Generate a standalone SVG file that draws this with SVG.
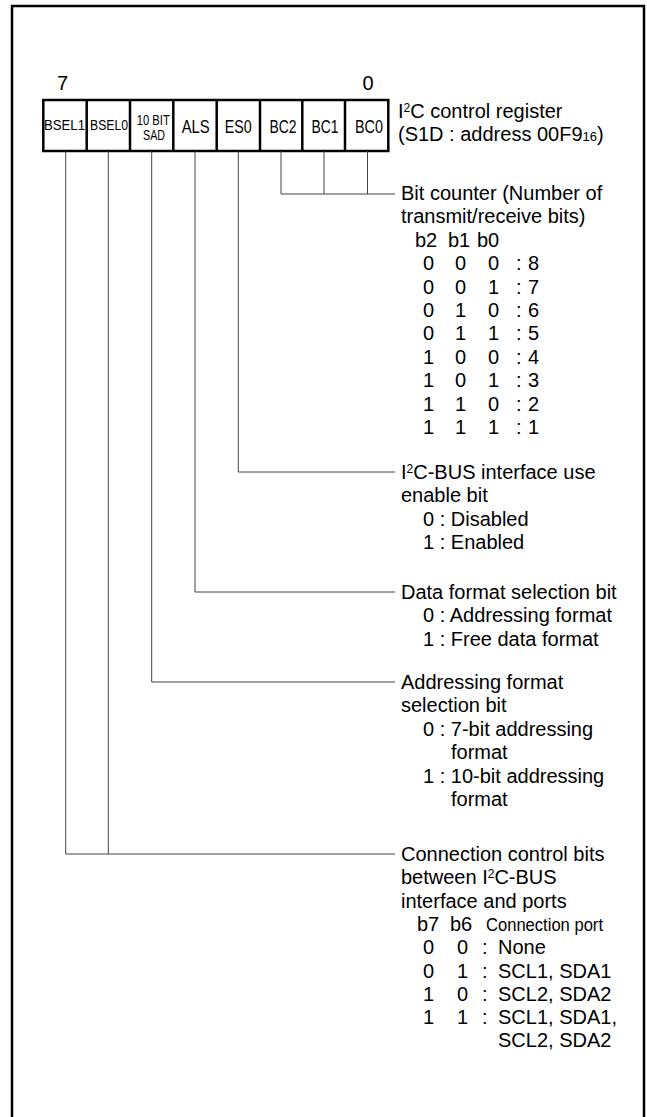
<svg xmlns="http://www.w3.org/2000/svg" width="647" height="1117" viewBox="0 0 647 1117">
<style>
text{font-family:"Liberation Sans",Arial,sans-serif;fill:#000}
.t{font-size:20px}
.c{font-size:18px;text-anchor:middle}
.s{font-size:14px;text-anchor:middle}
.sup{font-size:12px}
.sub{font-size:13px}
.frame{fill:none;stroke:#000;stroke-width:2.5}
.reg{fill:#fff;stroke:#000;stroke-width:2.5}
.cell{stroke:#000;stroke-width:2.5}
.ln{fill:none;stroke:#444;stroke-width:1}
</style>
<rect width="647" height="1117" fill="#fff"/>
<path class="frame" d="M12,1125 V6 H644 V1125"/>

<g id="register">
<text class="t" x="62.5" y="90" text-anchor="middle">7</text>
<text class="t" x="368" y="90" text-anchor="middle">0</text>
<rect class="reg" x="43.3" y="100" width="345" height="51"/>
<path class="cell" d="M86.7,100V151M130,100V151M173.3,100V151M216.7,100V151M260,100V151M302.3,100V151M345,100V151"/>
<text class="s" x="64.5" y="130" textLength="41" lengthAdjust="spacingAndGlyphs">BSEL1</text>
<text class="s" x="109" y="130" textLength="38" lengthAdjust="spacingAndGlyphs">BSEL0</text>
<text class="s" x="153.3" y="125" textLength="33" lengthAdjust="spacingAndGlyphs">10 BIT</text>
<text class="s" x="154" y="140" textLength="22" lengthAdjust="spacingAndGlyphs">SAD</text>
<text class="c" x="195.7" y="133" textLength="28" lengthAdjust="spacingAndGlyphs">ALS</text>
<text class="c" x="238.3" y="133" textLength="27" lengthAdjust="spacingAndGlyphs">ES0</text>
<text class="c" x="283" y="133" textLength="27" lengthAdjust="spacingAndGlyphs">BC2</text>
<text class="c" x="325" y="133" textLength="27" lengthAdjust="spacingAndGlyphs">BC1</text>
<text class="c" x="369" y="133" textLength="28" lengthAdjust="spacingAndGlyphs">BC0</text>
<text class="t" x="398" y="118">I<tspan class="sup" dy="-6">2</tspan><tspan dy="6">C control register</tspan></text>
<text class="t" x="398" y="141">(S1D : address 00F9<tspan class="sub">16</tspan>)</text>
</g>

<g id="connectors">
<path class="ln" d="M281,151V194M324,151V194M367.5,151V194M281,194H395"/>
<path class="ln" d="M238.3,151V472H395"/>
<path class="ln" d="M195,151V592H395"/>
<path class="ln" d="M151.7,151V682H395"/>
<path class="ln" d="M108.3,151V854"/>
<path class="ln" d="M65.7,151V854H395"/>
</g>

<g id="bit-counter">
<text class="t" x="401" y="200">Bit counter (Number of</text>
<text class="t" x="401" y="223.4">transmit/receive bits)</text>
<text class="t" y="246.8"><tspan x="415">b2</tspan><tspan x="448">b1</tspan><tspan x="477">b0</tspan></text>
<text class="t" y="270.2"><tspan x="423">0</tspan><tspan x="455">0</tspan><tspan x="488">0</tspan><tspan x="516">:</tspan><tspan x="528">8</tspan></text>
<text class="t" y="293.6"><tspan x="423">0</tspan><tspan x="455">0</tspan><tspan x="488">1</tspan><tspan x="516">:</tspan><tspan x="528">7</tspan></text>
<text class="t" y="317"><tspan x="423">0</tspan><tspan x="455">1</tspan><tspan x="488">0</tspan><tspan x="516">:</tspan><tspan x="528">6</tspan></text>
<text class="t" y="340.4"><tspan x="423">0</tspan><tspan x="455">1</tspan><tspan x="488">1</tspan><tspan x="516">:</tspan><tspan x="528">5</tspan></text>
<text class="t" y="363.8"><tspan x="423">1</tspan><tspan x="455">0</tspan><tspan x="488">0</tspan><tspan x="516">:</tspan><tspan x="528">4</tspan></text>
<text class="t" y="387.2"><tspan x="423">1</tspan><tspan x="455">0</tspan><tspan x="488">1</tspan><tspan x="516">:</tspan><tspan x="528">3</tspan></text>
<text class="t" y="410.6"><tspan x="423">1</tspan><tspan x="455">1</tspan><tspan x="488">0</tspan><tspan x="516">:</tspan><tspan x="528">2</tspan></text>
<text class="t" y="434"><tspan x="423">1</tspan><tspan x="455">1</tspan><tspan x="488">1</tspan><tspan x="516">:</tspan><tspan x="528">1</tspan></text>
</g>

<g id="es0">
<text class="t" x="401" y="479">I<tspan class="sup" dy="-6">2</tspan><tspan dy="6">C-BUS interface use</tspan></text>
<text class="t" x="401" y="502.4">enable bit</text>
<text class="t" x="423" y="525.8">0 : Disabled</text>
<text class="t" x="423" y="549.2">1 : Enabled</text>
</g>

<g id="als">
<text class="t" x="401" y="599">Data format selection bit</text>
<text class="t" x="423" y="622.4">0 : Addressing format</text>
<text class="t" x="423" y="645.8">1 : Free data format</text>
</g>

<g id="sad">
<text class="t" x="401" y="689">Addressing format</text>
<text class="t" x="401" y="712.4">selection bit</text>
<text class="t" x="423" y="735.8">0 : 7-bit addressing</text>
<text class="t" x="451" y="759.2">format</text>
<text class="t" x="423" y="782.6">1 : 10-bit addressing</text>
<text class="t" x="451" y="806">format</text>
</g>

<g id="bsel">
<text class="t" x="401" y="861">Connection control bits</text>
<text class="t" x="401" y="884.3">between I<tspan class="sup" dy="-6">2</tspan><tspan dy="6">C-BUS</tspan></text>
<text class="t" x="401" y="907.6">interface and ports</text>
<text class="t" y="930.9"><tspan x="417">b7</tspan><tspan x="450">b6</tspan></text>
<text x="486" y="930.9" font-size="18" textLength="117" lengthAdjust="spacingAndGlyphs">Connection port</text>
<text class="t" y="954.2"><tspan x="423">0</tspan><tspan x="457">0</tspan><tspan x="482">:</tspan><tspan x="498">None</tspan></text>
<text class="t" y="977.5"><tspan x="423">0</tspan><tspan x="457">1</tspan><tspan x="482">:</tspan><tspan x="498">SCL1, SDA1</tspan></text>
<text class="t" y="1000.8"><tspan x="423">1</tspan><tspan x="457">0</tspan><tspan x="482">:</tspan><tspan x="498">SCL2, SDA2</tspan></text>
<text class="t" y="1024.1"><tspan x="423">1</tspan><tspan x="457">1</tspan><tspan x="482">:</tspan><tspan x="498">SCL1, SDA1,</tspan></text>
<text class="t" x="498" y="1047.4">SCL2, SDA2</text>
</g>
</svg>
